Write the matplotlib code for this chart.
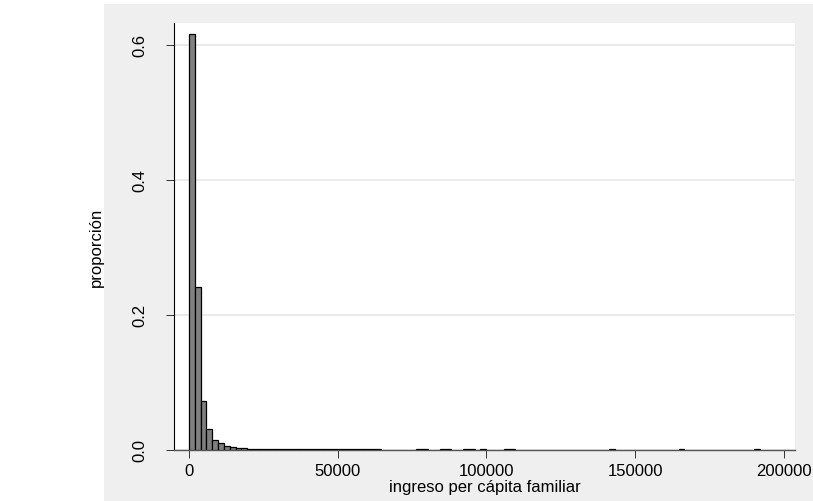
import matplotlib
matplotlib.use("Agg")
import matplotlib.pyplot as plt
import numpy as np

plt.rcParams["font.family"] = ["Liberation Sans", "DejaVu Sans"]

# histogram of per-capita family income (bin width ~1960)
bin_width = 1960
n_bins = 98
heights = np.zeros(n_bins)
heights[:11] = [0.615, 0.2415, 0.0717, 0.031, 0.0144, 0.0097, 0.0055,
                0.0035, 0.0024, 0.0019, 0.0014]
heights[11:33] = [0.0009, 0.0008, 0.0008, 0.0007, 0.0007, 0.0006, 0.0006,
                  0.0005, 0.0005, 0.0005, 0.0004, 0.0004, 0.0004, 0.0004,
                  0.0003, 0.0003, 0.0003, 0.0003, 0.0003, 0.0003, 0.0003,
                  0.0003]
tail_bins = [39, 40, 43, 44, 47, 48, 50, 54, 55, 72, 84, 97]
tail_heights = [0.0003] * len(tail_bins)
heights[tail_bins] = tail_heights

x_ticks = [0, 50000, 100000, 150000, 200000]
y_ticks = [0.0, 0.2, 0.4, 0.6]
y_tick_labels = ["0.0", "0.2", "0.4", "0.6"]

fig = plt.figure(figsize=(8.13, 5.02), dpi=100)
fig.patch.set_facecolor("white")

# gray graph region behind the plot
bg = fig.add_axes([104 / 813, 0, 1 - 104 / 813, 497 / 502], zorder=0)
bg.set_facecolor("#efefef")
bg.set_xticks([])
bg.set_yticks([])
for s in bg.spines.values():
    s.set_visible(False)

ax = fig.add_axes([174.3 / 813, 51.3 / 502, 620.7 / 813, 426.7 / 502], zorder=1)
ax.set_facecolor("white")

edges = np.arange(n_bins) * bin_width
mask = heights > 0
ax.bar(edges[mask], heights[mask], width=bin_width, align="edge",
       color="#808080", edgecolor="black", linewidth=0.9, zorder=3)

ax.set_xlim(-4943, 203766)
ax.set_ylim(0, 0.632)
ax.set_xticks(x_ticks)
ax.set_xticklabels([str(t) for t in x_ticks])
ax.set_yticks(y_ticks)
ax.set_yticklabels(y_tick_labels, rotation=90, va="center")

ax.grid(axis="y", color="#e6e6e6", linewidth=1.1, zorder=0)
ax.set_axisbelow(True)

for side in ["top", "right"]:
    ax.spines[side].set_visible(False)
ax.spines["left"].set_color("black")
ax.spines["left"].set_linewidth(0.8)
ax.spines["bottom"].set_color("#555555")
ax.spines["bottom"].set_linewidth(1.0)

ax.tick_params(axis="both", direction="out", length=5.5, width=0.7,
               color="#333333", labelsize=12, pad=4)
ax.tick_params(axis="y", pad=14)

ax.set_xlabel("ingreso per cápita familiar", fontsize=12, labelpad=1)
fig.text(96 / 813, 1 - 247 / 502, "proporción", rotation=90,
         ha="center", va="center", fontsize=12, zorder=2)

fig.savefig("out.png", dpi=100)
